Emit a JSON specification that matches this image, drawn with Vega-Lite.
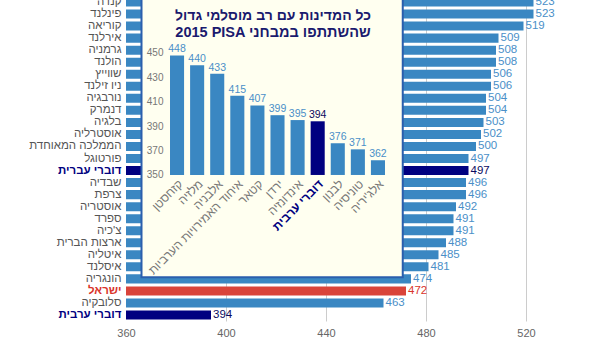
{
  "$schema": "https://vega.github.io/schema/vega-lite/v6.json",
  "width": 474,
  "height": 325,
  "autosize": {"type": "none"},
  "padding": {"left": 126, "top": -4, "right": 0, "bottom": 17},
  "config": {"view": {"stroke": null}, "font": "Liberation Sans, Arial, DejaVu Sans"},
  "datasets": {
    "main": [
      {"name": "קנדה", "value": 523, "hl": "n"},
      {"name": "פינלנד", "value": 523, "hl": "n"},
      {"name": "קוריאה", "value": 519, "hl": "n"},
      {"name": "אירלנד", "value": 509, "hl": "n"},
      {"name": "גרמניה", "value": 508, "hl": "n"},
      {"name": "הולנד", "value": 508, "hl": "n"},
      {"name": "שווייץ", "value": 506, "hl": "n"},
      {"name": "ניו זילנד", "value": 506, "hl": "n"},
      {"name": "נורבגיה", "value": 504, "hl": "n"},
      {"name": "דנמרק", "value": 504, "hl": "n"},
      {"name": "בלגיה", "value": 503, "hl": "n"},
      {"name": "אוסטרליה", "value": 502, "hl": "n"},
      {"name": "הממלכה המאוחדת", "value": 500, "hl": "n"},
      {"name": "פורטוגל", "value": 497, "hl": "n"},
      {"name": "דוברי עברית", "value": 497, "hl": "he"},
      {"name": "שבדיה", "value": 496, "hl": "n"},
      {"name": "צרפת", "value": 496, "hl": "n"},
      {"name": "אוסטריה", "value": 492, "hl": "n"},
      {"name": "ספרד", "value": 491, "hl": "n"},
      {"name": "צ'כיה", "value": 491, "hl": "n"},
      {"name": "ארצות הברית", "value": 488, "hl": "n"},
      {"name": "איטליה", "value": 485, "hl": "n"},
      {"name": "איסלנד", "value": 481, "hl": "n"},
      {"name": "הונגריה", "value": 474, "hl": "n"},
      {"name": "ישראל", "value": 472, "hl": "il"},
      {"name": "סלובקיה", "value": 463, "hl": "n"},
      {"name": "דוברי ערבית", "value": 394, "hl": "ar"}
    ],
    "inset": [
      {"name": "קזחסטן", "value": 448, "hl": "n"},
      {"name": "מלזיה", "value": 440, "hl": "n"},
      {"name": "אלבניה", "value": 433, "hl": "n"},
      {"name": "איחוד האמירויות הערביות", "value": 415, "hl": "n"},
      {"name": "קטאר", "value": 407, "hl": "n"},
      {"name": "ירדן", "value": 399, "hl": "n"},
      {"name": "אינדונזיה", "value": 395, "hl": "n"},
      {"name": "דוברי ערבית", "value": 394, "hl": "ar"},
      {"name": "לבנון", "value": 376, "hl": "n"},
      {"name": "טוניסיה", "value": 371, "hl": "n"},
      {"name": "אלג'יריה", "value": 362, "hl": "n"}
    ]
  },
  "layer": [
    {
      "data": {"name": "main"},
      "encoding": {
        "y": {
          "field": "name", "type": "nominal", "sort": null,
          "scale": {"paddingInner": 0.25, "paddingOuter": 0.125},
          "axis": {
            "orient": "left", "title": null, "domain": false, "ticks": false,
            "labelPadding": 5, "labelFontSize": 11.5, "labelLimit": 200,
            "labelColor": {"condition": [
              {"test": "datum.value == 'ישראל'", "value": "#d9342b"},
              {"test": "indexof(datum.value, 'דוברי') == 0", "value": "#000080"}
            ], "value": "#555555"},
            "labelFontWeight": {"condition": {"test": "datum.value == 'ישראל' || indexof(datum.value, 'דוברי') == 0", "value": "bold"}, "value": "normal"}
          }
        },
        "x": {
          "field": "value", "type": "quantitative",
          "scale": {"domain": [360, 549.6], "nice": false, "zero": false},
          "axis": {
            "orient": "bottom", "values": [360, 400, 440, 480, 520], "title": null,
            "domain": false, "ticks": false, "labelPadding": 6, "labelFontSize": 11,
            "labelColor": "#666666", "labelFlush": false, "grid": true,
            "gridColor": {"condition": {"test": "datum.value == 360", "value": "transparent"}, "value": "#cccccc"}
          }
        }
      },
      "layer": [
        {
          "mark": {"type": "bar"},
          "encoding": {
            "x2": {"datum": 360},
            "color": {"condition": [
              {"test": "datum.hl == 'il'", "value": "#d9443a"},
              {"test": "datum.hl != 'n'", "value": "#000080"}
            ], "value": "#3a87c2"}
          }
        },
        {
          "mark": {"type": "text", "align": "left", "dx": 2, "fontSize": 11.5},
          "encoding": {
            "text": {"field": "value"},
            "color": {"condition": [
              {"test": "datum.hl == 'il'", "value": "#d9342b"},
              {"test": "datum.hl != 'n'", "value": "#0a0a5e"}
            ], "value": "#4a8fc8"},
            "fontWeight": {"condition": {"test": "datum.hl != 'n'", "value": "bold"}, "value": "normal"}
          }
        }
      ]
    },
    {
      "data": {"values": [{"t1": "כל המדינות עם רב מוסלמי גדול", "t2": "2015 PISA שהשתתפו במבחני"}]},
      "encoding": {
        "x": {"datum": 366.2, "type": "quantitative", "scale": {"domain": [360, 549.6], "nice": false, "zero": false}, "axis": null},
        "y": {"datum": 266.1, "type": "quantitative", "scale": {"domain": [230.3, 496.7], "nice": false, "zero": false}, "axis": null}
      },
      "layer": [
        {
          "mark": {"type": "rect", "fill": "#fffff0", "stroke": "#2b5fad", "strokeWidth": 2},
          "encoding": {"x2": {"datum": 470.7}, "y2": {"datum": 510}}
        },
        {
          "mark": {"type": "text", "align": "center", "baseline": "middle", "fontSize": 14, "fontWeight": "bold", "color": "#1a1a6e"},
          "encoding": {"x": {"datum": 418.8, "type": "quantitative"}, "y": {"datum": 480, "type": "quantitative"}, "text": {"field": "t1"}}
        },
        {
          "mark": {"type": "text", "align": "center", "baseline": "middle", "fontSize": 14.5, "fontWeight": "bold", "color": "#1a1a6e"},
          "encoding": {"x": {"datum": 418.8, "type": "quantitative"}, "y": {"datum": 466, "type": "quantitative"}, "text": {"field": "t2"}}
        }
      ]
    },
    {
      "data": {"name": "inset"},
      "encoding": {
        "x": {
          "field": "name", "type": "nominal", "sort": null,
          "scale": {"range": [42, 261], "paddingInner": 0.3, "paddingOuter": 0.1},
          "axis": {
            "orient": "bottom", "offset": -146, "zindex": 2, "title": null, "domain": false, "ticks": false,
            "labelAngle": -45, "labelFontSize": 12, "labelPadding": 3, "labelLimit": 200,
            "labelColor": {"condition": {"test": "indexof(datum.value, 'דוברי') == 0", "value": "#000080"}, "value": "#777777"},
            "labelFontWeight": {"condition": {"test": "indexof(datum.value, 'דוברי') == 0", "value": "bold"}, "value": "normal"}
          }
        },
        "y": {
          "field": "value", "type": "quantitative",
          "scale": {"domain": [230.3, 496.7], "nice": false, "zero": false},
          "axis": {
            "orient": "left", "offset": -40, "zindex": 2, "values": [350, 370, 390, 410, 430, 450],
            "title": null, "domain": false, "ticks": false, "grid": false,
            "labelFontSize": 10, "labelColor": "#777777", "labelPadding": 3
          }
        }
      },
      "layer": [
        {
          "mark": {"type": "bar"},
          "encoding": {
            "y2": {"datum": 350},
            "color": {"condition": {"test": "datum.hl != 'n'", "value": "#000080"}, "value": "#3a87c2"}
          }
        },
        {
          "mark": {"type": "text", "baseline": "bottom", "dy": -1, "fontSize": 10.5},
          "encoding": {
            "text": {"field": "value"},
            "color": {"condition": {"test": "datum.hl != 'n'", "value": "#0a0a5e"}, "value": "#4a8fc8"},
            "fontWeight": {"condition": {"test": "datum.hl != 'n'", "value": "bold"}, "value": "normal"}
          }
        }
      ]
    }
  ],
  "resolve": {
    "scale": {"x": "independent", "y": "independent"},
    "axis": {"x": "independent", "y": "independent"}
  }
}
